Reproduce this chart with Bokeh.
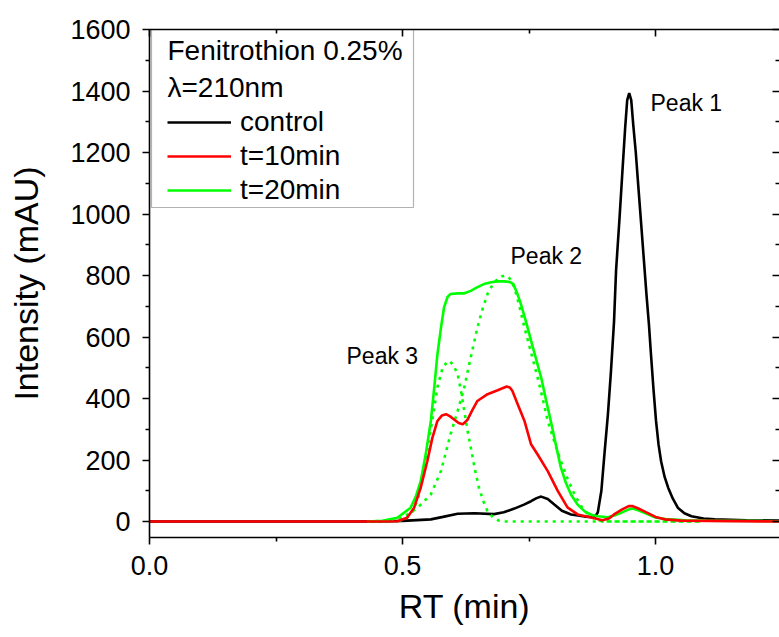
from bokeh.plotting import figure
from bokeh.models import (LinearAxis, FixedTicker, Range1d, Legend, LegendItem, Label,
                          BoxAnnotation, PrintfTickFormatter, CustomJSTickFormatter)
from bokeh.embed import file_html
from bokeh.resources import INLINE

# ---------------- data ----------------
control_x = [0.0, 0.45, 0.5, 0.556, 0.58, 0.609, 0.642, 0.681, 0.70, 0.721, 0.74, 0.754, 0.765,
             0.774, 0.787, 0.80, 0.815, 0.833, 0.86, 0.88, 0.886, 0.893, 0.899, 0.906, 0.912,
             0.918, 0.922, 0.929, 0.935, 0.940, 0.944, 0.948, 0.952, 0.956, 0.961, 0.966, 0.972,
             0.977, 0.982, 0.987, 0.991, 0.996, 1.001, 1.006, 1.011, 1.018, 1.025, 1.034, 1.044,
             1.057, 1.071, 1.095, 1.117, 1.18, 1.25]
control_y = [0, 0, 2, 7, 15, 25, 27, 24, 30, 42, 55, 66, 76,
             81, 73, 55, 35, 23, 16, 14, 30, 100, 218, 350, 490,
             650, 816, 990, 1150, 1280, 1370, 1393, 1370, 1290, 1200, 1090, 960,
             850, 740, 640, 544, 430, 327, 250, 196, 145, 110, 75, 45,
             27, 17, 10, 7, 4, 3]

t10_x = [0.0, 0.45, 0.49, 0.509, 0.523, 0.536, 0.549, 0.559, 0.569, 0.578, 0.586, 0.594, 0.602,
         0.611, 0.619, 0.628, 0.638, 0.648, 0.668, 0.688, 0.706, 0.712, 0.717, 0.728, 0.741,
         0.754, 0.767, 0.787, 0.807, 0.826, 0.846, 0.873, 0.895, 0.908, 0.918, 0.935, 0.947,
         0.955, 0.965, 0.978, 1.0, 1.018, 1.05, 1.25]
t10_y = [0, 0, 1, 12, 45, 110, 196, 272, 327, 345, 349, 342, 332,
         320, 316, 330, 362, 392, 414, 427, 439, 436, 425, 380, 327,
         251, 218, 164, 99, 46, 23, 13, 4, 10, 23, 40, 50,
         50, 43, 33, 15, 7, 3, 0]

t20_x = [0.43, 0.46, 0.49, 0.516, 0.526, 0.536, 0.546, 0.556, 0.563, 0.569, 0.576, 0.582, 0.589,
         0.595, 0.609, 0.622, 0.635, 0.648, 0.661, 0.675, 0.688, 0.701, 0.712, 0.719, 0.726,
         0.734, 0.744, 0.754, 0.764, 0.774, 0.783, 0.793, 0.803, 0.813, 0.823, 0.833, 0.846,
         0.86, 0.873, 0.886, 0.906, 0.92, 0.932, 0.945, 0.955, 0.967, 0.978, 1.0, 1.02, 1.06,
         1.1, 1.25]
t20_y = [0, 2, 12, 45, 80, 131, 220, 327, 440, 544, 630, 696, 730,
         740, 742, 742, 750, 762, 772, 778, 781, 781, 779, 772, 745,
         707, 650, 588, 528, 468, 400, 327, 250, 175, 125, 88, 55,
         33, 22, 17, 14, 20, 28, 38, 42, 36, 28, 13, 8, 4,
         3, 1]

peak3_x = [0.43, 0.47, 0.50, 0.516, 0.53, 0.542, 0.556, 0.569, 0.58, 0.592, 0.60, 0.609, 0.615,
           0.622, 0.628, 0.635, 0.643, 0.651, 0.66, 0.668, 0.68, 0.69, 0.70, 1.09]
peak3_y = [0, 0, 4, 20, 70, 164, 300, 436, 505, 523, 510, 479, 430,
           360, 300, 240, 170, 110, 65, 33, 12, 3, 0, 0]

peak2_x = [0.43, 0.48, 0.50, 0.53, 0.556, 0.576, 0.595, 0.609, 0.622, 0.635, 0.648, 0.658, 0.668,
           0.678, 0.688, 0.696, 0.704, 0.712, 0.721, 0.731, 0.741, 0.754, 0.767, 0.777, 0.787,
           0.80, 0.813, 0.826, 0.84, 0.853, 0.866, 0.878, 0.89, 0.91, 1.09]
peak2_y = [0, 3, 12, 45, 88, 164, 284, 360, 436, 535, 631, 690, 740,
           770, 789, 797, 800, 790, 762, 700, 631, 550, 468, 400, 327,
           260, 196, 140, 88, 50, 23, 10, 3, 0, 0]

series_labels = ["control", "t=10min", "t=20min"]
legend_header = ["Fenitrothion 0.25%", "\u03bb=210nm"]
peak_labels = ["Peak 1", "Peak 2", "Peak 3"]

x_ticks = [0.0, 0.5, 1.0]
x_minor = [0.25, 0.75, 1.25]
y_ticks = [0, 200, 400, 600, 800, 1000, 1200, 1400, 1600]
y_minor = [100, 300, 500, 700, 900, 1100, 1300, 1500]

# ---------------- layout ----------------
FONT = "Liberation Sans"
X0, X1 = 0.0, 1.245
Y0, Y1 = -52.0, 1600.0
FL, FT, FW, FH = 149, 29, 630, 508


def dx(px):
    return X0 + (px - FL) / FW * (X1 - X0)


def dy(py):
    return Y1 - (py - FT) / FH * (Y1 - Y0)


p = figure(width=779, height=637, output_backend="svg", toolbar_location=None,
           x_range=Range1d(X0, X1), y_range=Range1d(Y0, Y1),
           min_border_left=FL, min_border_right=0, min_border_top=FT, min_border_bottom=100,
           x_axis_location=None, y_axis_location=None)
p.grid.visible = False
p.outline_line_color = None
p.background_fill_color = "white"
p.border_fill_color = "white"

xt = FixedTicker(ticks=x_ticks, minor_ticks=x_minor)
yt = FixedTicker(ticks=y_ticks, minor_ticks=y_minor)
blank = CustomJSTickFormatter(code="return ''")

common = dict(axis_line_width=1.6, axis_line_color="black",
              major_tick_line_width=1.6, minor_tick_line_width=1.6,
              major_tick_line_color="black", minor_tick_line_color="black",
              major_label_text_font=FONT, axis_label_text_font=FONT,
              major_label_text_color="black", axis_label_text_color="black",
              axis_label_text_font_style="normal")

xb = LinearAxis(ticker=xt, formatter=PrintfTickFormatter(format="%.1f"), axis_label="RT (min)",
                major_tick_out=7, major_tick_in=0, minor_tick_out=4, minor_tick_in=0,
                major_label_text_font_size="27px", axis_label_text_font_size="34px",
                major_label_standoff=11, axis_label_standoff=9, **common)
yl = LinearAxis(ticker=yt, axis_label="Intensity (mAU)",
                major_tick_out=7, major_tick_in=0, minor_tick_out=4, minor_tick_in=0,
                major_label_text_font_size="27px", axis_label_text_font_size="34px",
                major_label_standoff=12, axis_label_standoff=22, **common)
xtop = LinearAxis(ticker=xt, formatter=blank, major_tick_out=0, major_tick_in=7,
                  minor_tick_out=0, minor_tick_in=4, major_label_text_font_size="1px",
                  major_label_standoff=0, **common)
yr = LinearAxis(ticker=yt, formatter=blank, major_tick_out=0, major_tick_in=7,
                minor_tick_out=0, minor_tick_in=4, major_label_text_font_size="1px",
                major_label_standoff=0, **common)
yr.axis_line_color = None
p.add_layout(xb, "below")
p.add_layout(yl, "left")
p.add_layout(xtop, "above")
p.add_layout(yr, "right")

# ---------------- curves ----------------
LW = 2.6
r_ctrl = p.line(control_x, control_y, line_color="black", line_width=LW)
p.line(peak3_x, peak3_y, line_color="#00ff00", line_width=LW, line_dash="3 5")
p.line(peak2_x, peak2_y, line_color="#00ff00", line_width=LW, line_dash="3 5")
r_20 = p.line(t20_x, t20_y, line_color="#00ff00", line_width=LW)
r_10 = p.line(t10_x, t10_y, line_color="#ff0000", line_width=LW)

# ---------------- legend ----------------
box = BoxAnnotation(left=dx(151), right=dx(413), top=dy(29), bottom=dy(207),
                    fill_alpha=0, line_color="black", line_width=1.2)
p.add_layout(box)

legend = Legend(items=[LegendItem(label=series_labels[0], renderers=[r_ctrl]),
                       LegendItem(label=series_labels[1], renderers=[r_10]),
                       LegendItem(label=series_labels[2], renderers=[r_20])],
                location=(18, 330), padding=0, margin=0, spacing=0,
                glyph_width=64, glyph_height=34, label_height=34, label_standoff=9,
                label_text_font=FONT, label_text_font_size="28px", label_text_color="black",
                border_line_color=None, background_fill_alpha=0)
p.add_layout(legend)

for txt, py in zip(legend_header, [50, 87]):
    p.add_layout(Label(x=dx(167), y=dy(py), text=txt, text_font=FONT, text_font_size="28px",
                       text_baseline="middle", text_align="left", text_color="black"))

for txt, (px, py) in zip(peak_labels, [(650, 102), (510, 255), (346, 355)]):
    p.add_layout(Label(x=dx(px), y=dy(py), text=txt, text_font=FONT, text_font_size="23px",
                       text_baseline="middle", text_align="left", text_color="black"))

open("out.html", "w").write(file_html(p, INLINE))
